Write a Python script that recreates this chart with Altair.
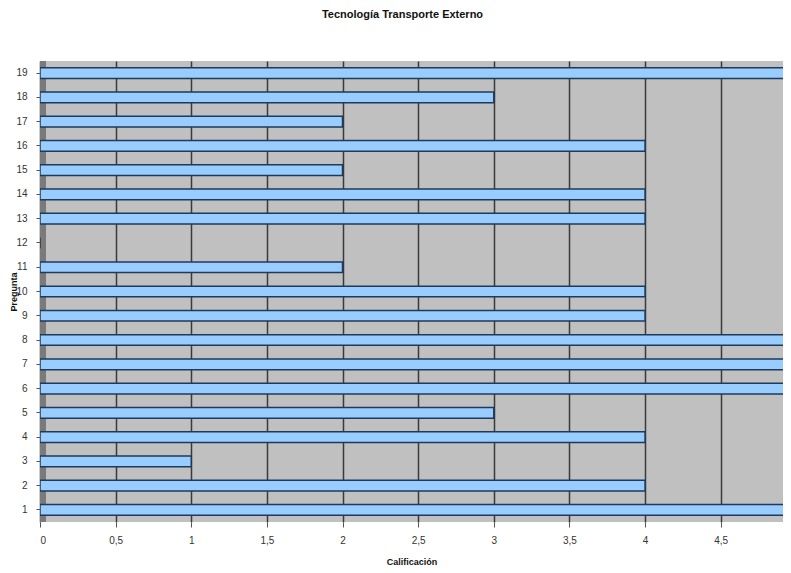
import altair as alt
import pandas as pd

preguntas = [str(i) for i in range(1, 20)]
calificacion = [5, 4, 1, 4, 3, 5, 5, 5, 4, 4, 2, 0, 4, 4, 2, 4, 2, 3, 5]
x_ticks = [0, 0.5, 1, 1.5, 2, 2.5, 3, 3.5, 4, 4.5, 5]

df = pd.DataFrame({"Pregunta": preguntas, "Calificación": calificacion})
order = list(reversed(preguntas))

FONT = "Liberation Sans"

bars = alt.Chart(df).mark_bar(
    clip=True, fill="#99CCFF", stroke="#1C3A5C", strokeWidth=1.5
).encode(
    x=alt.X(
        "Calificación:Q",
        scale=alt.Scale(domain=[0, 4.912], nice=False, zero=True),
        axis=alt.Axis(
            values=x_ticks,
            labelExpr="replace(toString(datum.value), '.', ',')",
            title="Calificación",
            titleFont=FONT, titleFontSize=9, titleFontWeight="bold", titleColor="#111",
            titlePadding=12,
            labelFont=FONT, labelFontSize=10, labelColor="#333",
            tickSize=5, tickColor="#555", labelPadding=8,
            domain=False,
            grid=True, gridColor="#3a3a3a", gridWidth=1.5,
        ),
    ),
    y=alt.Y(
        "Pregunta:N",
        sort=order,
        scale=alt.Scale(paddingInner=0.56, paddingOuter=0.28),
        axis=alt.Axis(
            title="Pregunta",
            titleFont=FONT, titleFontSize=9, titleFontWeight="bold", titleColor="#111",
            titleX=-27, titleAngle=-90, titleBaseline="middle",
            labelFont=FONT, labelFontSize=10, labelColor="#333",
            tickSize=4, tickColor="#555", labelPadding=9,
            domain=False, grid=False,
        ),
    ),
)

wall = alt.Chart(df).mark_rule(color="#7a7a7a", strokeWidth=6).encode(
    x=alt.value(3), y=alt.value(0), y2=alt.value(461)
)

chart = alt.layer(wall, bars).properties(
    width=743,
    height=461,
    title=alt.TitleParams(
        "Tecnología Transporte Externo",
        font=FONT, fontSize=11, fontWeight="bold", color="#111",
        anchor="middle", dx=-9, offset=38,
    ),
    autosize=alt.AutoSizeParams(type="none"),
    padding={"left": 32, "top": 53, "right": 0, "bottom": 43},
).configure_view(
    fill="#C0C0C0", stroke=None
)

chart.save("out.html", embed_options={"renderer": "svg", "actions": False})
